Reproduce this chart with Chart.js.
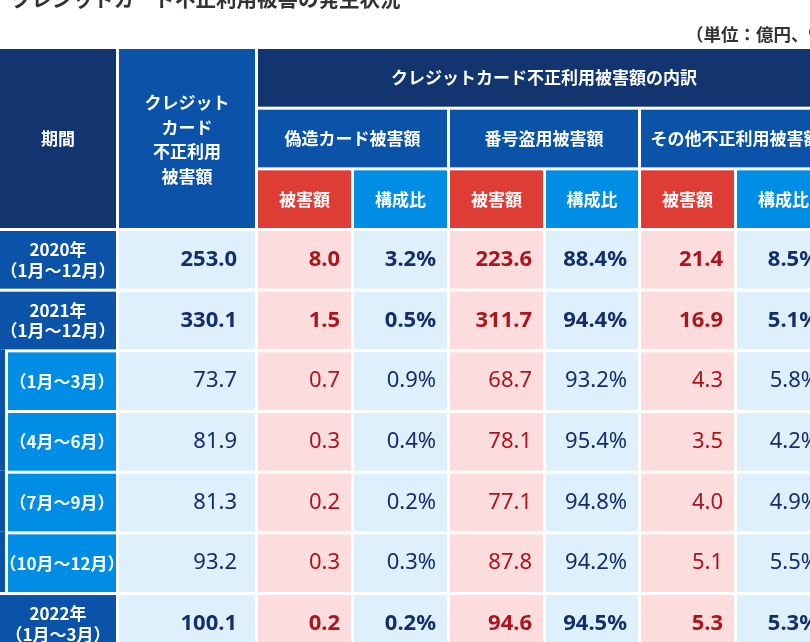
<!DOCTYPE html>
<html lang="ja">
<head>
<meta charset="utf-8">
<script src="https://cdn.jsdelivr.net/npm/chart.js@4.4.1/dist/chart.umd.min.js"></script>
<style>
  html, body { margin: 0; padding: 0; background: #fff; overflow: hidden; }
  canvas { display: block; }
</style>
</head>
<body>
<canvas id="tableChart" width="840" height="660"></canvas>
<script>
const titulo = "クレジットカード不正利用被害の発生状況";
const unidade = "（単位：億円、%）";

// cabeçalho
const headCol0 = "期間";
const headCol1 = ["クレジット", "カード", "不正利用", "被害額"];
const headBreakdown = "クレジットカード不正利用被害額の内訳";
const headGroups = ["偽造カード被害額", "番号盗用被害額", "その他不正利用被害額"];
const headSub = ["被害額", "構成比", "被害額", "構成比", "被害額", "構成比"];

// linhas
const periodos = [
  ["2020年", "（1月～12月）"],
  ["2021年", "（1月～12月）"],
  ["（1月～3月）"],
  ["（4月～6月）"],
  ["（7月～9月）"],
  ["（10月～12月）"],
  ["2022年", "（1月～3月）"],
];
const subPeriodo = [false, false, true, true, true, true, false];

const totalDano = [253.0, 330.1, 73.7, 81.9, 81.3, 93.2, 100.1];
const falsifDano = [8.0, 1.5, 0.7, 0.3, 0.2, 0.3, 0.2];
const falsifPct = [3.2, 0.5, 0.9, 0.4, 0.2, 0.3, 0.2];
const rouboNumDano = [223.6, 311.7, 68.7, 78.1, 77.1, 87.8, 94.6];
const rouboNumPct = [88.4, 94.4, 93.2, 95.4, 94.8, 94.2, 94.5];
const outrosDano = [21.4, 16.9, 4.3, 3.5, 4.0, 5.1, 5.3];
const outrosPct = [8.5, 5.1, 5.8, 4.2, 4.9, 5.5, 5.3];

const rowKeys = ["h0", "h1", "h2", ...periodos.map((p, i) => "r" + i)];

// layout da grade (bordas das colunas na escala x)
const COL_EDGES = [-1.5, 117.5, 256.5, 352.5, 448.5, 544.5, 639.5, 735.5, 831.5];
const GAP = 3;

const COR = {
  navy: "#13356f",
  azul: "#0b53a8",
  azulClaro: "#008de6",
  vermelho: "#df3c35",
  fundoAzul: "#ddf0fb",
  fundoRosa: "#fcdcdc",
  txtNavy: "#122e6c",
  txtVermelho: "#a8171d",
  titulo: "#333333",
};

const FONTE_JP = '"Noto Sans CJK JP", "Noto Sans", sans-serif';
const FONTE_NUM = '"Noto Sans", "Open Sans", sans-serif';

const tabelaPlugin = {
  id: "tabela",
  afterDraw(chart) {
    const c = chart.ctx;
    const xs = chart.scales.x;
    const ys = chart.scales.y;
    const band = (ys.bottom - ys.top) / rowKeys.length;

    const rowTop = (i) => ys.getPixelForValue(i) - band / 2 + GAP / 2;
    const rowBot = (i) => ys.getPixelForValue(i) + band / 2 - GAP / 2;
    const colL = (k) => xs.getPixelForValue(COL_EDGES[k]) + GAP / 2;
    const colR = (k) => xs.getPixelForValue(COL_EDGES[k + 1]) - GAP / 2;

    const caixa = (x0, x1, y0, y1, cor) => {
      c.fillStyle = cor;
      c.fillRect(x0, y0, x1 - x0, y1 - y0);
    };
    const linhas = (txts, x, yc, lh) => {
      const y0 = yc - ((txts.length - 1) * lh) / 2;
      txts.forEach((t, i) => c.fillText(t, x, y0 + i * lh));
    };

    c.save();

    // título (cortado no topo) e unidade
    c.fillStyle = COR.titulo;
    c.textBaseline = "middle";
    c.textAlign = "left";
    c.font = `bold 20.5px ${FONTE_JP}`;
    c.fillText(titulo, 11, -1);
    c.font = `bold 17.5px ${FONTE_JP}`;
    c.fillText(unidade, 686, 34);

    // cabeçalho
    c.textAlign = "center";
    c.font = `bold 17px ${FONTE_JP}`;

    caixa(colL(0), colR(0), rowTop(0), rowBot(2), COR.navy);
    c.fillStyle = "#fff";
    c.fillText(headCol0, (colL(0) + colR(0)) / 2, (rowTop(0) + rowBot(2)) / 2);

    caixa(colL(1), colR(1), rowTop(0), rowBot(2), COR.azul);
    c.fillStyle = "#fff";
    linhas(headCol1, (colL(1) + colR(1)) / 2, (rowTop(0) + rowBot(2)) / 2 + 1, 24.5);

    caixa(colL(2), colR(7), rowTop(0), rowBot(0), COR.navy);
    c.fillStyle = "#fff";
    c.fillText(headBreakdown, (colL(2) + colR(7)) / 2, ys.getPixelForValue(0));

    headGroups.forEach((g, i) => {
      const k = 2 + i * 2;
      caixa(colL(k), colR(k + 1), rowTop(1), rowBot(1), COR.azul);
      c.fillStyle = "#fff";
      c.fillText(g, (colL(k) + colR(k + 1)) / 2, ys.getPixelForValue(1));
    });

    headSub.forEach((s, i) => {
      const k = 2 + i;
      caixa(colL(k), colR(k), rowTop(2), rowBot(2), i % 2 === 0 ? COR.vermelho : COR.azulClaro);
      c.fillStyle = "#fff";
      c.fillText(s, (colL(k) + colR(k)) / 2, ys.getPixelForValue(2));
    });

    // corpo
    const colunas = [
      { v: falsifDano, pct: false },
      { v: falsifPct, pct: true },
      { v: rouboNumDano, pct: false },
      { v: rouboNumPct, pct: true },
      { v: outrosDano, pct: false },
      { v: outrosPct, pct: true },
    ];

    periodos.forEach((p, r) => {
      const ri = r + 3;
      const y0 = rowTop(ri);
      const y1 = rowBot(ri);
      const yc = ys.getPixelForValue(ri);
      const sub = subPeriodo[r];

      // coluna do período
      if (sub) {
        caixa(colL(0), colL(0) + 5, y0 - GAP, y1, COR.azul);
        caixa(colL(0) + 8, colR(0), y0, y1, COR.azulClaro);
        c.fillStyle = "#fff";
        c.textAlign = "center";
        c.font = `bold 17px ${FONTE_JP}`;
        linhas(p, (colL(0) + 8 + colR(0)) / 2, yc, 20);
      } else {
        caixa(colL(0), colR(0), y0, y1, COR.azul);
        c.fillStyle = "#fff";
        c.textAlign = "center";
        c.font = `bold 17px ${FONTE_JP}`;
        linhas(p, (colL(0) + colR(0)) / 2, yc, 20.5);
      }

      const fonteNum = `${sub ? "" : "bold "}22px ${FONTE_NUM}`;
      c.font = fonteNum;
      c.textAlign = "right";

      caixa(colL(1), colR(1), y0, y1, COR.fundoAzul);
      c.fillStyle = COR.txtNavy;
      c.fillText(totalDano[r].toFixed(1), colR(1) - 18, yc);

      colunas.forEach((col, j) => {
        const k = 2 + j;
        caixa(colL(k), colR(k), y0, y1, col.pct ? COR.fundoAzul : COR.fundoRosa);
        c.fillStyle = col.pct ? COR.txtNavy : COR.txtVermelho;
        c.fillText(col.v[r].toFixed(1) + (col.pct ? "%" : ""), colR(k) - 11, yc);
      });
    });

    c.restore();
  },
};

const ctx = document.getElementById("tableChart").getContext("2d");

const tabela = new Chart(ctx, {
  type: "bar",
  data: {
    labels: rowKeys,
    datasets: [{ data: rowKeys.map(() => null) }],
  },
  options: {
    indexAxis: "y",
    responsive: false,
    animation: false,
    events: [],
    layout: {
      padding: { top: 47.5, bottom: 5.8, left: 0, right: 7 },
    },
    plugins: {
      legend: { display: false },
      tooltip: { enabled: false },
    },
    scales: {
      x: { type: "linear", min: 0, max: 833, display: false },
      y: { type: "category", offset: true, display: false },
    },
  },
  plugins: [tabelaPlugin],
});
</script>
</body>
</html>
